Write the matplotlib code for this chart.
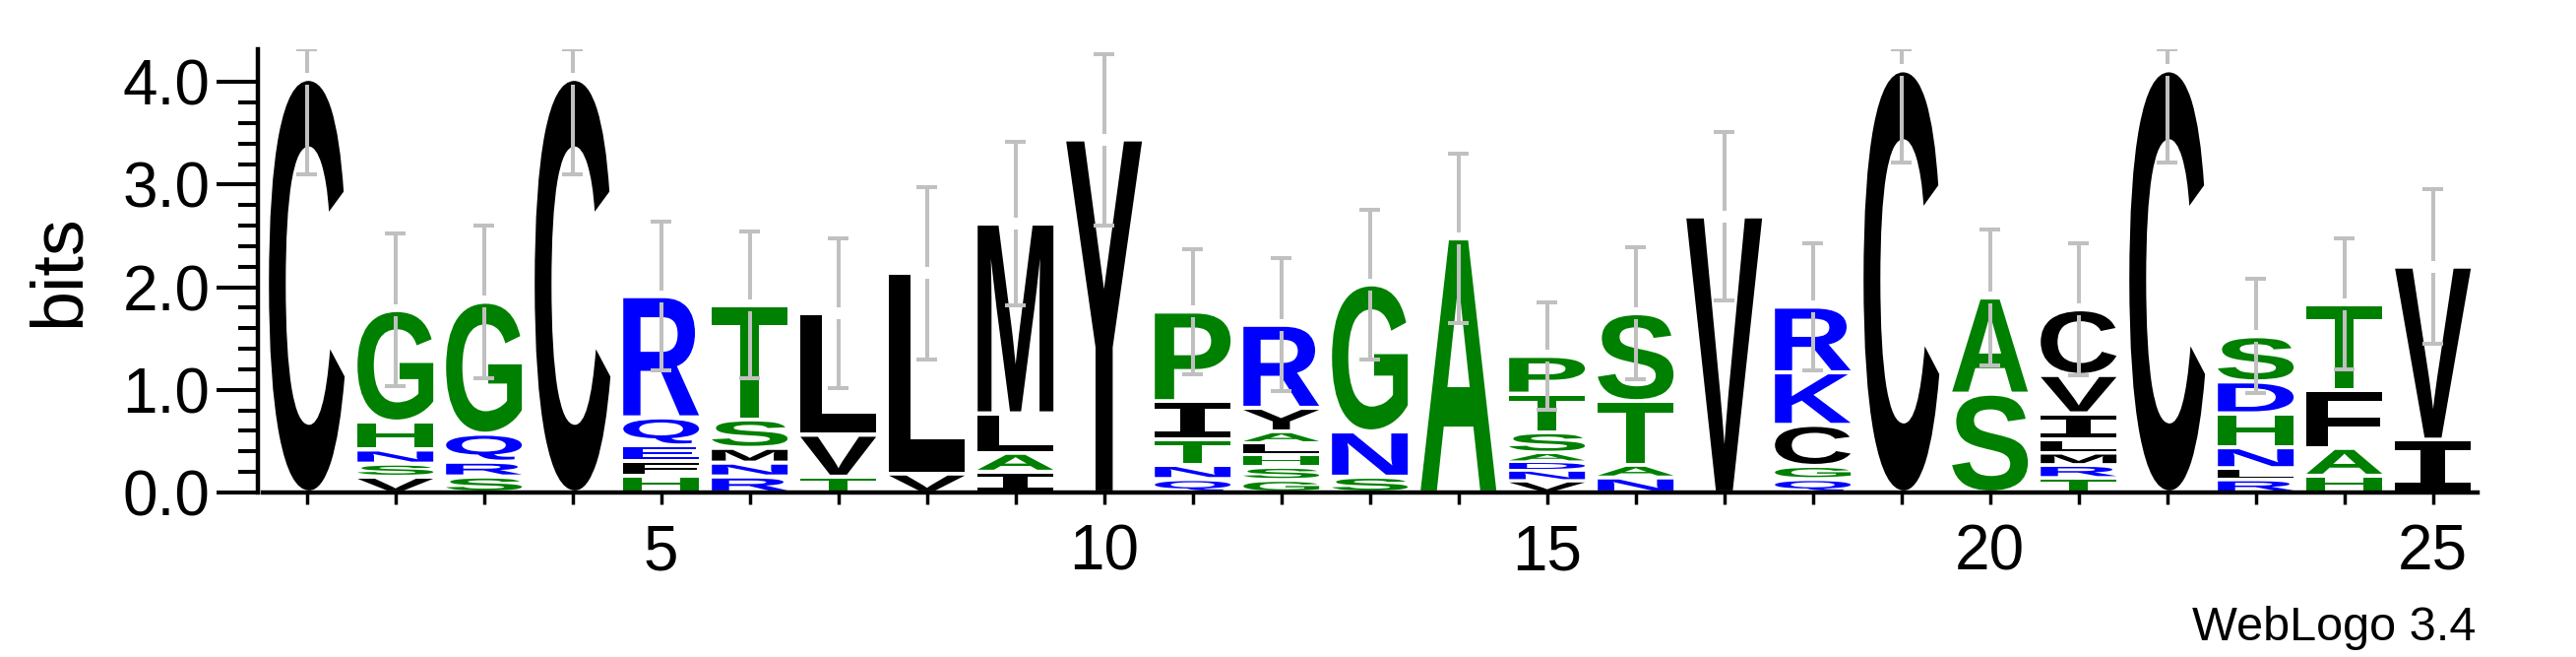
import numpy as np
import matplotlib
matplotlib.use("Agg")
import matplotlib.pyplot as plt
import matplotlib.transforms as mtransforms
from matplotlib.textpath import TextPath
from matplotlib.patches import PathPatch
from matplotlib.font_manager import FontProperties

plt.rcParams['font.family'] = ['Liberation Sans', 'DejaVu Sans']

# letters of each stack, bottom to top
stack_letters = [
    "C", "VSNHG", "SRQG", "C", "HFEQR", "RNMST", "TVL", "VL", "IALM", "Y",
    "QNTIP", "GSHLAYR", "SNG", "A", "VNDASTP", "NATS", "V", "QGCKR", "C", "SA",
    "TRMLIVC", "C", "RLNHDS", "HAFT", "IV",
]
# height (bits) of each letter, same order
stack_heights = [
    [4.03],
    [0.154, 0.127, 0.138, 0.272, 1.087],
    [0.156, 0.144, 0.273, 1.286],
    [4.03],
    [0.163, 0.144, 0.151, 0.274, 1.181],
    [0.156, 0.135, 0.144, 0.278, 1.113],
    [0.154, 0.409, 1.184],
    [0.185, 1.952],
    [0.202, 0.185, 0.384, 1.849],
    [3.44],
    [0.131, 0.138, 0.246, 0.375, 0.873],
    [0.122, 0.128, 0.121, 0.112, 0.112, 0.230, 0.809],
    [0.154, 0.441, 1.433],
    [2.476],
    [0.115, 0.103, 0.082, 0.087, 0.201, 0.375, 0.368],
    [0.147, 0.122, 0.621, 0.857],
    [2.69],
    [0.131, 0.128, 0.400, 0.512, 0.640],
    [4.114],
    [0.963, 0.937],
    [0.141, 0.128, 0.118, 0.128, 0.256, 0.374, 0.640],
    [4.114],
    [0.128, 0.109, 0.204, 0.330, 0.311, 0.441],
    [0.163, 0.272, 0.560, 0.841],
    [0.515, 1.686],
]
# error bar half widths (bits)
stack_errors = [0.93, 0.745, 0.745, 0.93, 0.725, 0.715, 0.73, 0.84, 0.795, 0.835,
                0.61, 0.65, 0.73, 0.825, 0.525, 0.64, 0.82, 0.62, 0.90, 0.66,
                0.64, 0.90, 0.555, 0.64, 0.755]
positions = np.arange(1, len(stack_letters) + 1)
max_bits = np.log2(20)

letter_colors = {
    'G': 'green', 'S': 'green', 'T': 'green', 'H': 'green', 'A': 'green', 'P': 'green',
    'N': 'blue', 'Q': 'blue', 'R': 'blue', 'K': 'blue', 'D': 'blue', 'E': 'blue',
}

fp_sans = FontProperties(family='Liberation Sans', weight='bold')
fp_mono = FontProperties(family='Liberation Mono', weight='bold')


def draw_letter(ax, ch, x, y, w, h, color):
    prop = fp_mono if ch == 'I' else fp_sans
    tp = TextPath((0, 0), ch, size=1, prop=prop)
    bb = tp.get_extents()
    t = (mtransforms.Affine2D()
         .translate(-bb.x0, -bb.y0)
         .scale(w / bb.width, h / bb.height)
         .translate(x - w / 2, y))
    ax.add_patch(PathPatch(t.transform_path(tp), fc=color, ec='none', lw=0, zorder=2))


W, H = 2617, 667
fig = plt.figure(figsize=(W / 100, H / 100), dpi=100)
ax = fig.add_axes([262 / W, 1 - 500 / H, (2516.7 - 262) / W, 450 / H])

letter_w = 0.855
for pos, letters, heights, err in zip(positions, stack_letters, stack_heights, stack_errors):
    y = 0.0
    for ch, h in zip(letters, heights):
        pad = min(0.02, h * 0.15)
        draw_letter(ax, ch, pos, y + pad, letter_w, h - 2 * pad,
                    letter_colors.get(ch, 'black'))
        y += h
    top = y
    upper = min(top + err, max_bits)
    lower = top - err
    gap = 0.058
    bar = dict(color='#c0c0c0', lw=2.9, zorder=3)
    ax.vlines(pos, top + gap, upper, **bar)
    ax.vlines(pos, lower, top - gap, **bar)
    ax.hlines([upper, lower], pos - 0.117, pos + 0.117, **bar)

ax.set_xlim(0.448, 25.5)
ax.set_ylim(0, 450 / 104.2)

for side in ('top', 'right'):
    ax.spines[side].set_visible(False)
ax.spines['left'].set_linewidth(3.2)
ax.spines['bottom'].set_linewidth(3.2)
ax.spines['left'].set_bounds(0, max_bits)
ax.spines['bottom'].set_bounds(0.5, 25.5)

ax.set_yticks(np.arange(0, 5))
ax.set_yticklabels([f"{v:.1f}" for v in range(5)])
ax.set_yticks(np.arange(0, 4.01, 0.2), minor=True)
ax.tick_params(axis='y', which='major', length=30, width=2.9, labelsize=46, pad=5)
ax.tick_params(axis='y', which='minor', length=14.4, width=2.9)

ax.set_xticks(positions)
ax.set_xticklabels([str(p) if p % 5 == 0 else '' for p in positions])
ax.tick_params(axis='x', which='major', length=8.6, width=2.5, labelsize=46, pad=14)

ax.set_ylabel('bits', fontsize=53)
ax.yaxis.set_label_coords(-(262 - 95) / (2516.7 - 262), 0.5)

fig.text(2515 / W, 1 - 650 / H, 'WebLogo 3.4', fontsize=35, ha='right', va='baseline')

fig.savefig('out.png', dpi=100)
